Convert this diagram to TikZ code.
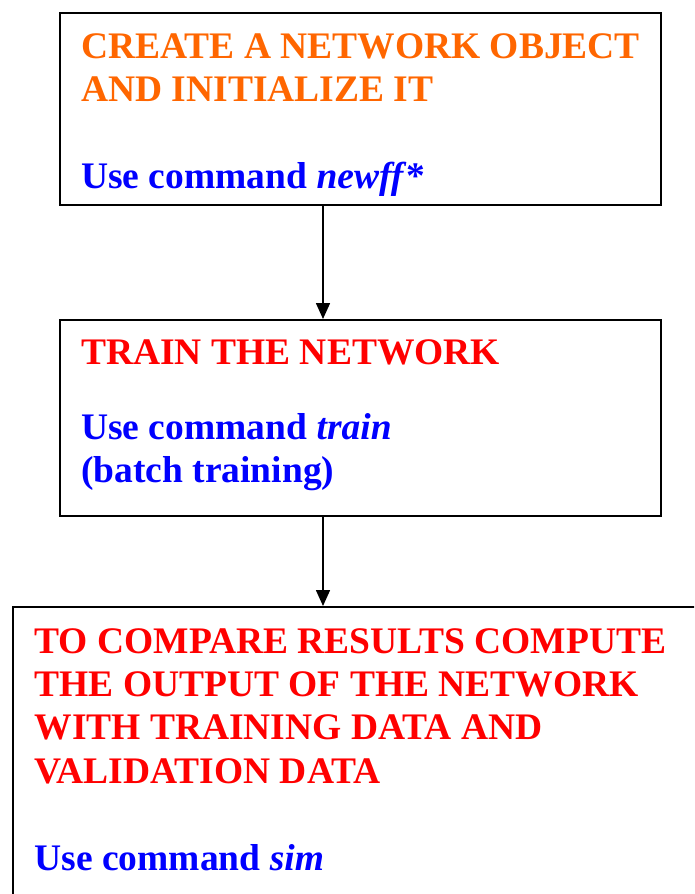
\documentclass[tikz,border=0pt]{standalone}
\usepackage{fontspec}
\setmainfont{Liberation Serif}
\usetikzlibrary{arrows.meta,positioning}
\definecolor{stepor}{RGB}{255,102,0}

\begin{document}
\begin{tikzpicture}[x=1pt,y=1pt,
    box/.style={draw,line width=1.6pt,inner sep=0pt,anchor=north west},
    txt/.style={anchor=base west,align=left,inner sep=0pt,
      font=\fontsize{37.5}{43.4}\selectfont\bfseries},
    flow/.style={line width=1.6pt,-{Triangle[width=14pt,length=16pt]}}]
				\clip (0,0) rectangle (694,-894);
				\def\xarrow{323};
				\def\gap{43.4pt};
				% the three boxes (the last one runs off the page)
				\node[box,minimum width=601pt,minimum height=192pt] (create) at (59,-12) {};
				\node[box,minimum width=601pt,minimum height=196pt] (train) at (59,-319) {};
				\node[box,minimum width=800pt,minimum height=400pt] (compare) at (12,-606) {};
				% texts, placed by the baseline of their last line
				\node[txt,text=stepor] (createtxt) at (81,-188.3)
				{CREATE A NETWORK OBJECT\\AND INITIALIZE IT\\[\gap]
				\textcolor{blue}{Use command \textit{newff}*}};
				\node[txt,text=red] (traintxt) at (81,-482.7)
				{TRAIN THE NETWORK\\[31.6pt]
				\textcolor{blue}{Use command \textit{train}}\\
				\textcolor{blue}{(batch training)}};
				\node[txt,text=red] (comparetxt) at (34.3,-870)
				{TO COMPARE RESULTS COMPUTE\\THE OUTPUT OF THE NETWORK\\
				WITH TRAINING DATA AND\\VALIDATION DATA\\[\gap]
				\textcolor{blue}{Use command \textit{sim}}};
				% arrows
				\coordinate (axis) at (\xarrow,0);
				\draw[flow] (create.south -| axis) -- (train.north -| axis);
				\draw[flow] (train.south -| axis) -- (compare.north -| axis);
			\end{tikzpicture}
\end{document}
